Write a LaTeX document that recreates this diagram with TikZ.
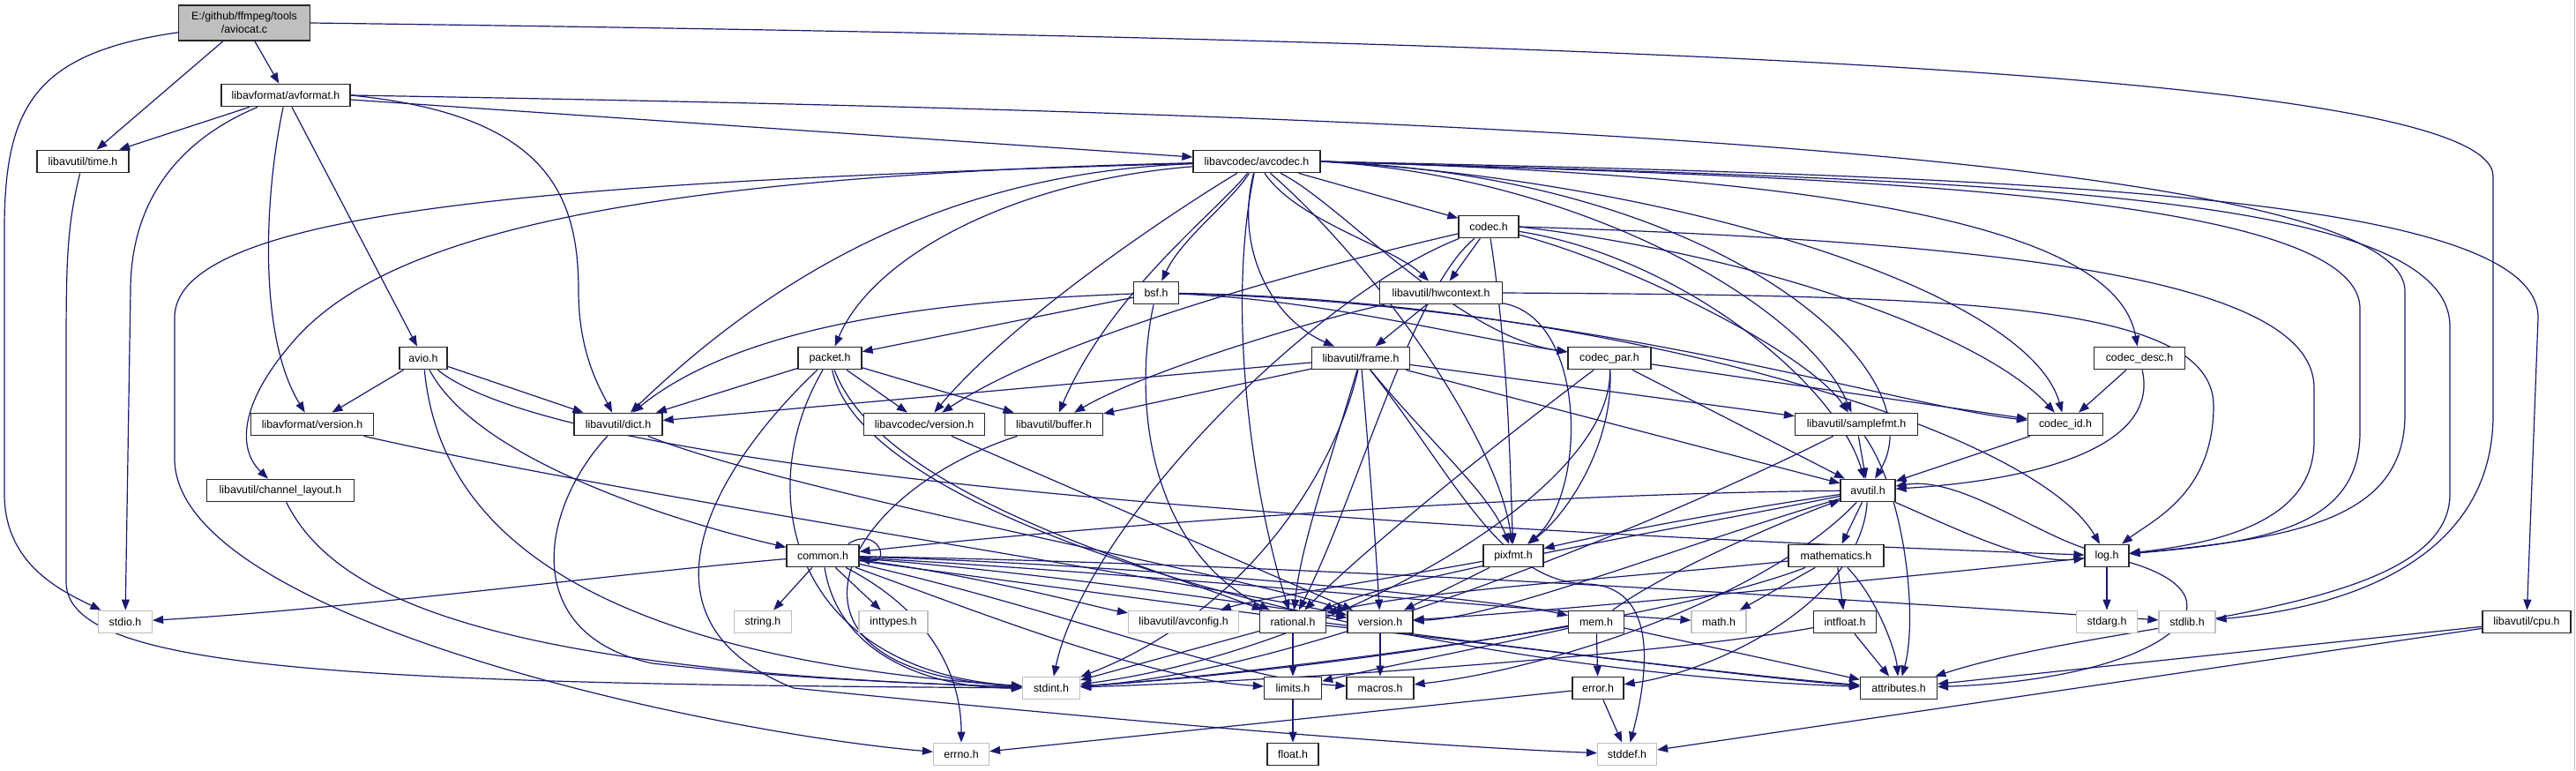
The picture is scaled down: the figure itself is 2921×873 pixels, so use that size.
\documentclass[tikz,border=0pt]{standalone}
\usepackage{fontspec}
\setmainfont{Liberation Sans}
\usetikzlibrary{arrows.meta}
\definecolor{edgec}{HTML}{191970}
\definecolor{nodegray}{HTML}{BFBFBF}
\definecolor{fillg}{HTML}{BFBFBF}
\pgfdeclarelayer{bglayer}
\pgfdeclarelayer{edgelayer}
\pgfsetlayers{bglayer,edgelayer,main}
\tikzset{
 nd/.style={draw=black!85, fill=white, line width=0.6pt, inner sep=0pt, minimum height=12.8pt, font=\fontsize{6.2pt}{7.5pt}\selectfont},
 ng/.style={nd, draw=nodegray},
 e/.style={draw=edgec, line width=0.6pt, -{Triangle[length=6pt,width=4.5pt]}},
}
\begin{document}
\begin{tikzpicture}[x=0.5pt,y=-0.5pt]
\begin{pgfonlayer}{bglayer}
\path[use as bounding box, fill=white] (0,0) rectangle (2921,873);
\draw[nodegray, line width=0.5pt] (2919.5,0) -- (2919.5,873);
\end{pgfonlayer}
% nodes
\node[nd, fill=fillg, minimum width=74.5pt, minimum height=20pt, align=center] (aviocat) at (277,26) {E:/github/ffmpeg/tools\\/aviocat.c};
\node[nd, minimum width=73pt] (avformat) at (324,108) {libavformat/avformat.h};
\node[nd, minimum width=52pt] (time) at (94,183) {libavutil/time.h};
\node[nd, minimum width=72pt] (avcodec) at (1425,183) {libavcodec/avcodec.h};
\node[nd, minimum width=34pt] (codec) at (1688,257) {codec.h};
\node[nd, minimum width=25.5pt] (bsf) at (1311,332) {bsf.h};
\node[nd, minimum width=69.5pt] (hwcontext) at (1634,332) {libavutil/hwcontext.h};
\node[nd, minimum width=27pt] (avio) at (480,406) {avio.h};
\node[nd, minimum width=36pt] (packet) at (941,406) {packet.h};
\node[nd, minimum width=55.5pt] (frame) at (1543,406) {libavutil/frame.h};
\node[nd, minimum width=47pt] (codecpar) at (1825,406) {codec\_par.h};
\node[nd, minimum width=51.5pt] (codecdesc) at (2426,406) {codec\_desc.h};
\node[nd, minimum width=69.5pt] (lavfversion) at (354,481) {libavformat/version.h};
\node[nd, minimum width=50pt] (dict) at (701,481) {libavutil/dict.h};
\node[nd, minimum width=68.5pt] (lavcversion) at (1048,481) {libavcodec/version.h};
\node[nd, minimum width=55.5pt] (buffer) at (1195,481) {libavutil/buffer.h};
\node[nd, minimum width=69.5pt] (samplefmt) at (2105,481) {libavutil/samplefmt.h};
\node[nd, minimum width=42.5pt] (codecid) at (2342,481) {codec\_id.h};
\node[nd, minimum width=83.5pt] (chlayout) at (318,556) {libavutil/channel\_layout.h};
\node[nd, minimum width=31pt] (avutil) at (2118,556) {avutil.h};
\node[nd, minimum width=41pt] (common) at (933,630) {common.h};
\node[nd, minimum width=34pt] (pixfmt) at (1716,630) {pixfmt.h};
\node[nd, minimum width=54pt] (mathematics) at (2082,630) {mathematics.h};
\node[nd, minimum width=25pt] (log) at (2389,630) {log.h};
\node[ng, minimum width=30.5pt] (stdio) at (142,705) {stdio.h};
\node[ng, minimum width=32.5pt] (string) at (865,705) {string.h};
\node[ng, minimum width=39pt] (inttypes) at (1013,705) {inttypes.h};
\node[ng, minimum width=62.5pt] (avconfig) at (1342,705) {libavutil/avconfig.h};
\node[nd, minimum width=37.5pt] (rational) at (1466,705) {rational.h};
\node[nd, minimum width=37pt] (version) at (1565,705) {version.h};
\node[nd, minimum width=31.5pt] (mem) at (1810,705) {mem.h};
\node[ng, minimum width=31pt] (math) at (1949,705) {math.h};
\node[nd, minimum width=35.5pt] (intfloat) at (2092,705) {intfloat.h};
\node[ng, minimum width=34.5pt] (stdarg) at (2389,705) {stdarg.h};
\node[ng, minimum width=32pt] (stdlib) at (2480,705) {stdlib.h};
\node[nd, minimum width=50pt] (cpu) at (2865,705) {libavutil/cpu.h};
\node[ng, minimum width=32.5pt] (stdint) at (1192,780) {stdint.h};
\node[nd, minimum width=32.5pt] (limits) at (1466,780) {limits.h};
\node[nd, minimum width=38pt] (macros) at (1565,780) {macros.h};
\node[nd, minimum width=29pt] (error) at (1812,780) {error.h};
\node[nd, minimum width=43.5pt] (attributes) at (2153,780) {attributes.h};
\node[ng, minimum width=31.5pt] (errno) at (1090,855) {errno.h};
\node[nd, minimum width=29pt] (float) at (1466,855) {float.h};
\node[ng, minimum width=33.5pt] (stddef) at (1845,855) {stddef.h};

\begin{pgfonlayer}{edgelayer}
% aviocat
\draw[e] (aviocat) .. controls (40,60) and (5,120) .. (5,260) -- (5,560) .. controls (5,640) and (70,670) .. (stdio);
\draw[e] (aviocat) -- (time);
\draw[e] (aviocat) -- (avformat);
\draw[e] (aviocat.east) .. controls (1800,45) and (2827,80) .. (2827,200) -- (2827,470) .. controls (2827,640) and (2650,690) .. (stdlib);
% avformat
\draw[e] (avformat) -- (time);
\draw[e] (avformat) .. controls (200,160) and (148,230) .. (148,330) -- (stdio);
\draw[e] (avformat) .. controls (300,220) and (292,380) .. (lavfversion);
\draw[e] (avformat) -- (avio);
\draw[e] (avformat.east) .. controls (620,130) and (656,220) .. (656,330) .. controls (656,400) and (680,440) .. (dict);
\draw[e] (avformat) -- (avcodec);
\draw[e] (avformat.east) .. controls (1400,125) and (2727,160) .. (2727,330) -- (2727,470) .. controls (2727,590) and (2600,610) .. (log);
% time
\draw[e] (time) .. controls (75,260) and (75,300) .. (75,420) -- (75,660) .. controls (75,760) and (400,775) .. (stdint);
% avcodec
\draw[e] (avcodec) .. controls (700,205) and (198,230) .. (198,360) -- (198,520) .. controls (198,700) and (800,830) .. (errno);
\draw[e] (avcodec) .. controls (700,200) and (430,270) .. (330,390) .. controls (270,460) and (270,510) .. (chlayout);
\draw[e] (avcodec) .. controls (1100,195) and (900,290) .. (dict);
\draw[e] (avcodec) .. controls (1150,205) and (990,290) .. (packet);
\draw[e] (avcodec) .. controls (1330,240) and (1150,360) .. (lavcversion);
\draw[e] (avcodec) .. controls (1380,240) and (1260,330) .. (buffer);
\draw[e] (avcodec) .. controls (1395,230) and (1340,270) .. (bsf);
\draw[e] (avcodec) .. controls (1400,280) and (1440,360) .. (frame);
\draw[e] (avcodec) -- (codec);
\draw[e] (avcodec) .. controls (1470,250) and (1580,280) .. (hwcontext);
\draw[e] (avcodec) .. controls (1520,230) and (1650,380) .. (codecpar);
\draw[e] (avcodec.east) .. controls (1800,200) and (2050,350) .. (samplefmt);
\draw[e] (avcodec.east) .. controls (2100,200) and (2400,260) .. (codecdesc);
\draw[e] (avcodec.east) .. controls (1900,205) and (2300,330) .. (codecid);
\draw[e] (avcodec.east) .. controls (1950,200) and (2200,420) .. (avutil);
\draw[e] (avcodec) .. controls (1560,300) and (1700,500) .. (pixfmt);
\draw[e] (avcodec) .. controls (1390,350) and (1420,560) .. (rational);
\draw[e] (avcodec.east) .. controls (2000,200) and (2676,210) .. (2676,350) -- (2676,490) .. controls (2676,600) and (2560,615) .. (log);
\draw[e] (avcodec.east) .. controls (2300,200) and (2878,220) .. (2878,360) -- (cpu);
\draw[e] (avcodec.east) .. controls (2200,205) and (2778,210) .. (2778,370) -- (2778,560) .. controls (2778,700) and (2400,700) .. (attributes);
% codec
\draw[e] (codec) .. controls (1480,340) and (1230,600) .. (stdint);
\draw[e] (codec) .. controls (1900,290) and (2080,430) .. (avutil);
\draw[e] (codec) -- (hwcontext);
\draw[e] (codec.east) .. controls (2300,275) and (2624,320) .. (2624,440) -- (2624,500) .. controls (2624,590) and (2520,615) .. (log);
\draw[e] (codec) .. controls (1710,400) and (1712,520) .. (pixfmt);
\draw[e] (codec) .. controls (1600,330) and (1540,560) .. (rational);
\draw[e] (codec) .. controls (1850,300) and (2050,400) .. (samplefmt);
\draw[e] (codec.east) .. controls (2000,290) and (2250,380) .. (codecid);
\draw[e] (codec) .. controls (1500,300) and (1200,380) .. (lavcversion);
% bsf
\draw[e] (bsf) .. controls (1100,340) and (850,360) .. (dict);
\draw[e] (bsf) .. controls (1800,340) and (2300,480) .. (log);
\draw[e] (bsf) .. controls (1285,450) and (1300,620) .. (rational);
\draw[e] (bsf) .. controls (1800,345) and (2150,460) .. (codecid);
\draw[e] (bsf) .. controls (1500,340) and (1650,380) .. (codecpar);
\draw[e] (bsf) -- (packet);
% hwcontext
\draw[e] (hwcontext) .. controls (1500,360) and (1300,420) .. (buffer);
\draw[e] (hwcontext) -- (frame);
\draw[e] (hwcontext.east) .. controls (2200,335) and (2510,340) .. (2510,460) .. controls (2510,560) and (2440,590) .. (log);
\draw[e] (hwcontext) .. controls (1800,360) and (1800,560) .. (pixfmt);
% avio
\draw[e] (avio) .. controls (495,560) and (600,740) .. (stdint);
\draw[e] (avio) .. controls (540,520) and (760,590) .. (common);
\draw[e] (avio) -- (dict);
\draw[e] (avio) .. controls (620,520) and (1300,590) .. (log);
\draw[e] (avio) -- (lavfversion);
% packet
\draw[e] (packet) .. controls (820,520) and (700,700) .. (900,780) .. controls (1300,820) and (1600,845) .. (stddef);
\draw[e] (packet) .. controls (850,560) and (900,760) .. (stdint);
\draw[e] (packet) .. controls (980,600) and (1600,760) .. (attributes);
\draw[e] (packet) -- (buffer);
\draw[e] (packet) -- (dict);
\draw[e] (packet) .. controls (1000,560) and (1300,640) .. (rational);
\draw[e] (packet) -- (lavcversion);
% frame
\draw[e] (frame) .. controls (1650,540) and (1700,660) .. (1800,662) .. controls (1880,665) and (1870,760) .. (stddef);
\draw[e] (frame) .. controls (1510,550) and (1400,700) .. (stdint);
\draw[e] (frame) -- (avutil);
\draw[e] (frame) -- (buffer);
\draw[e] (frame) -- (dict);
\draw[e] (frame) .. controls (1500,550) and (1475,620) .. (rational);
\draw[e] (frame) -- (samplefmt);
\draw[e] (frame) .. controls (1620,500) and (1690,560) .. (pixfmt);
\draw[e] (frame) .. controls (1555,550) and (1560,620) .. (version);
% codec_par
\draw[e] (codecpar) .. controls (1830,560) and (1500,740) .. (stdint);
\draw[e] (codecpar) -- (avutil);
\draw[e] (codecpar) .. controls (1700,500) and (1550,620) .. (rational);
\draw[e] (codecpar) .. controls (1830,500) and (1780,580) .. (pixfmt);
\draw[e] (codecpar) -- (codecid);
% codec_desc
\draw[e] (codecdesc) .. controls (2450,510) and (2300,545) .. (avutil);
\draw[e] (codecdesc) -- (codecid);
% versions, dict, buffer, chlayout
\draw[e] (lavfversion) .. controls (700,560) and (1300,650) .. (version);
\draw[e] (dict) .. controls (610,580) and (590,720) .. (740,752) .. controls (900,770) and (1050,775) .. (stdint);
\draw[e] (dict) .. controls (900,560) and (1400,650) .. (version);
\draw[e] (lavcversion) -- (version);
\draw[e] (buffer) .. controls (950,560) and (850,760) .. (stdint);
\draw[e] (chlayout) .. controls (380,680) and (560,760) .. (stdint);
% samplefmt, codec_id
\draw[e] (samplefmt) .. controls (1950,560) and (1500,760) .. (stdint);
\draw[e] (samplefmt) -- (avutil);
\draw[e] (samplefmt) .. controls (2160,560) and (2175,700) .. (attributes);
\draw[e] (codecid) -- (avutil);
% avutil
\draw[e] (avutil) .. controls (1700,560) and (1200,600) .. (common);
\draw[e] (avutil) .. controls (2110,680) and (1950,760) .. (error);
\draw[e] (avutil) .. controls (1900,600) and (1600,650) .. (rational);
\draw[e] (avutil) .. controls (1900,620) and (1700,700) .. (version);
\draw[e] (avutil) .. controls (2000,680) and (1750,760) .. (macros);
\draw[e] (avutil) -- (mathematics);
\draw[e] (avutil) .. controls (2220,600) and (2300,640) .. (log);
\draw[e] (avutil) .. controls (1950,580) and (1800,610) .. (pixfmt);
% common
\draw[e] (common) .. controls (1050,690) and (1090,760) .. (errno);
\draw[e] (common) -- (inttypes);
\draw[e] (common) .. controls (1100,690) and (1300,770) .. (limits);
\draw[e] (common) .. controls (1300,650) and (1700,690) .. (math);
\draw[e] (common) .. controls (950,740) and (1050,780) .. (stdint);
\draw[e] (common) .. controls (700,650) and (400,690) .. (stdio);
\draw[e] (common) .. controls (1500,640) and (2100,680) .. (stdlib);
\draw[e] (common) -- (string);
\draw[e] (common) .. controls (1300,680) and (1900,760) .. (attributes);
\draw[e] (common) .. controls (1200,690) and (1400,770) .. (macros);
\draw[e] (common) .. controls (1200,650) and (1450,690) .. (version);
\draw[e] (common) .. controls (1100,650) and (1250,690) .. (avconfig);
\draw[e] (common) .. controls (1300,640) and (1700,680) .. (mem);
\draw[e] (common.25) .. controls (995,595) and (1012,640) .. (common.-5);
% pixfmt, mathematics
\draw[e] (pixfmt) .. controls (1550,660) and (1420,680) .. (avconfig);
\draw[e] (pixfmt) -- (version);
\draw[e] (mathematics) .. controls (1900,700) and (1500,760) .. (stdint);
\draw[e] (mathematics) -- (math);
\draw[e] (mathematics) .. controls (2130,680) and (2150,740) .. (attributes);
\draw[e] (mathematics) .. controls (1900,650) and (1600,670) .. (rational);
\draw[e] (mathematics) -- (intfloat);
% log
\draw[e] (log) -- (stdarg);
\draw[e] (log) .. controls (2300,600) and (2220,540) .. (avutil);
\draw[e] (log) .. controls (2560,680) and (2450,770) .. (attributes);
\draw[e] (log) .. controls (2200,650) and (1800,690) .. (version);
% lower rows
\draw[e] (rational) -- (stdint);
\draw[e] (rational) -- (limits);
\draw[e] (rational) .. controls (1700,730) and (2000,770) .. (attributes);
\draw[e] (version) -- (macros);
\draw[e] (mem) .. controls (1700,730) and (1550,760) .. (limits);
\draw[e] (mem) .. controls (1600,740) and (1350,770) .. (stdint);
\draw[e] (mem) -- (attributes);
\draw[e] (mem) -- (error);
\draw[e] (mem) .. controls (1900,640) and (2050,580) .. (avutil);
\draw[e] (intfloat) .. controls (1900,740) and (1500,770) .. (stdint);
\draw[e] (intfloat) -- (attributes);
\draw[e] (cpu) -- (attributes);
\draw[e] (cpu) -- (stddef);
\draw[e] (limits) -- (float);
\draw[e] (error) -- (errno);
\draw[e] (error) -- (stddef);
\end{pgfonlayer}
\end{tikzpicture}
\end{document}
